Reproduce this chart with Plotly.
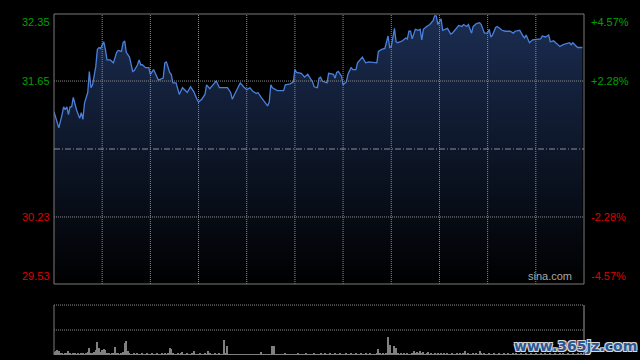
import plotly.graph_objects as go

# ---------------- data ----------------
prev_close = 30.94
y_lo, y_hi = 29.53, 32.35
label_levels = [32.35, 31.65, 30.23, 29.53]
left_labels = ["32.35", "31.65", "30.23", "29.53"]
right_labels = ["+4.57%", "+2.28%", "-2.28%", "-4.57%"]
grid_levels = [31.65, 30.23]
grid_minutes = [30, 60, 90, 120, 150, 180, 210, 240, 270, 300]
session_minutes = 330

minutes = [
    0, 3, 5, 6, 7, 8, 9, 10, 11, 12,
    14, 16, 17, 18, 19, 21, 22, 23, 24, 26,
    27, 28, 29, 31, 32, 33, 35, 37, 39, 40,
    42, 43, 44, 45, 47, 49, 50, 52, 53, 54,
    55, 57, 59, 60, 62, 64, 65, 68, 69, 70,
    72, 73, 74, 76, 78, 80, 82, 83, 85, 87,
    89, 90, 92, 94, 95, 97, 99, 101, 103, 108,
    110, 111, 113, 114, 116, 118, 120, 122, 124, 126,
    127, 129, 131, 133, 134, 135, 136, 139, 143, 144,
    147, 149, 150, 151, 154, 156, 158, 159, 161, 162,
    164, 165, 166,
    167, 170, 171, 174, 175, 176, 177, 179, 180, 182,
    183, 185, 186, 188, 189, 192, 193, 194, 196, 199,
    201, 202, 204, 206, 208, 209, 210, 212, 213, 214,
    217, 219, 220, 221, 222, 223, 225, 227, 228, 229,
    230, 232, 234, 236, 237, 238, 239, 241, 242, 245,
    247, 248, 252, 254, 255, 257, 258, 260, 261, 263,
    265, 266, 268, 270, 271, 272, 273, 275, 276, 279,
    281, 284, 286, 287, 290, 292, 293, 294, 296, 298,
    301, 303, 304, 306, 308, 309, 311, 313, 315, 317,
    319, 321, 322, 323, 326, 327, 329,
]

prices = [
    31.33, 31.16, 31.30, 31.38, 31.35, 31.38, 31.30, 31.38, 31.38, 31.48,
    31.35, 31.26, 31.32, 31.25, 31.42, 31.53, 31.75, 31.58, 31.61, 31.80,
    31.98, 32.00, 31.99, 32.06, 31.98, 31.87, 31.87, 31.84, 31.95, 31.97,
    31.96, 32.05, 32.07, 31.95, 31.90, 31.75, 31.76, 31.82, 31.87, 31.82,
    31.82, 31.79, 31.79, 31.72, 31.77, 31.69, 31.66, 31.68, 31.84, 31.85,
    31.74, 31.72, 31.63, 31.63, 31.51, 31.58, 31.54, 31.53, 31.59, 31.54,
    31.46, 31.43, 31.46, 31.51, 31.61, 31.57, 31.61, 31.65, 31.58, 31.58,
    31.53, 31.46, 31.53, 31.56, 31.63, 31.59, 31.56, 31.58, 31.54, 31.52,
    31.53, 31.48, 31.43, 31.39, 31.43, 31.61, 31.58, 31.55, 31.55, 31.61,
    31.62, 31.64, 31.77, 31.74, 31.73, 31.69, 31.72, 31.69, 31.64, 31.59,
    31.58, 31.68, 31.69,
    31.65, 31.63, 31.73, 31.72, 31.68, 31.74, 31.75, 31.70, 31.61, 31.64,
    31.72, 31.79, 31.77, 31.77, 31.84, 31.90, 31.87, 31.84, 31.85, 31.84,
    31.84, 31.96, 31.98, 31.99, 32.12, 32.00, 32.01, 32.20, 32.06, 32.05,
    32.07, 32.10, 32.09, 32.17, 32.17, 32.09, 32.19, 32.18, 32.19, 32.08,
    32.19, 32.22, 32.24, 32.28, 32.33, 32.33, 32.24, 32.30, 32.18, 32.20,
    32.14, 32.15, 32.23, 32.22, 32.24, 32.22, 32.24, 32.15, 32.22, 32.25,
    32.26, 32.24, 32.15, 32.15, 32.19, 32.11, 32.13, 32.21, 32.22, 32.18,
    32.17, 32.17, 32.15, 32.17, 32.18, 32.12, 32.10, 32.13, 32.05, 32.08,
    32.09, 32.09, 32.12, 32.11, 32.13, 32.06, 32.07, 32.04, 32.01, 32.03,
    32.04, 32.05, 32.03, 32.05, 32.00, 32.00, 32.00,
]

volumes = [
    3, 4, 5, 4, 2, 2, 1, 2, 2, 4, 2, 1, 2, 2, 1, 2, 1, 2, 2, 1, 2, 3, 7, 2, 2, 3, 5, 13, 7, 3,
    5, 6, 5, 2, 2, 1, 2, 2, 8, 2, 2, 1, 2, 3, 12, 14, 4, 2, 1, 1, 2, 1, 2, 1, 1, 2, 1, 1, 2, 1,
    1, 2, 1, 1, 2, 1, 1, 2, 1, 2, 1, 2, 7, 6, 2, 1, 1, 2, 1, 2, 3, 1, 1, 2, 1, 1, 2, 4, 1, 1,
    1, 2, 1, 1, 2, 1, 4, 2, 1, 1, 2, 1, 1, 2, 1, 1, 15, 2, 9, 1, 1, 1, 1, 1, 1, 1, 1, 1, 1, 1,
    1, 1, 1, 1, 1, 1, 1, 1, 1, 3, 1, 1, 1, 1, 1, 1, 9, 9, 1, 1, 1, 1, 1, 1, 2, 1, 1, 1, 1, 1,
    1, 1, 2, 1, 1, 1, 1, 2, 1, 1, 1, 1, 2, 1, 1, 1, 2, 1, 1, 2, 1, 1, 2, 1, 1, 2, 1, 1, 2, 1,
    1, 1, 2, 1, 1, 2, 1, 1, 2, 1, 1, 2, 1, 1, 2, 1, 1, 2, 1, 1, 1, 2, 6, 2, 1, 2, 1, 2, 18, 10,
    2, 2, 9, 7, 2, 1, 2, 1, 2, 1, 2, 1, 1, 2, 4, 2, 3, 2, 4, 2, 3, 1, 2, 3, 1, 2, 1, 2, 1, 2,
    1, 2, 1, 2, 1, 2, 1, 1, 2, 1, 1, 2, 1, 2, 1, 2, 4, 1, 2, 1, 1, 2, 1, 2, 1, 4, 2, 1, 2, 1,
    1, 2, 1, 1, 2, 1, 1, 2, 1, 1, 2, 1, 1, 2, 1, 1, 2, 1, 2, 1, 1, 2, 1, 1, 2, 1, 1, 2, 1, 1,
    2, 1, 1, 2, 1, 1, 2, 1, 1, 2, 1, 1, 2, 1, 1, 2, 1, 2, 1, 1, 2, 1, 1, 2, 1, 1, 2, 1, 2, 1,
    2,
]
volume_minutes = list(range(len(volumes)))
volume_max = 50

# ---------------- figure ----------------
W, H = 640, 360
px_x = lambda p: p / W
px_y = lambda p: 1 - p / H

GREEN = "#00a000"
RED = "#dd0000"
GRID = "#8c8c8c"
BORDER = "#7a7a7a"
FONT = "Liberation Sans, Arial, sans-serif"
DOT = "1px,1px"

fig = go.Figure()

fig.add_trace(go.Scatter(
    x=minutes, y=prices, mode="lines",
    line=dict(color="#4a80dc", width=1.3),
    fill="tozeroy",
    fillgradient=dict(type="vertical",
                      colorscale=[[0, "#000000"], [1, "#1b2d52"]],
                      start=y_lo, stop=y_hi),
    hoverinfo="skip", showlegend=False,
    xaxis="x", yaxis="y",
))

fig.add_trace(go.Bar(
    x=volume_minutes, y=volumes, width=0.7,
    marker=dict(color="#808080", line=dict(width=0)),
    hoverinfo="skip", showlegend=False,
    xaxis="x2", yaxis="y2",
))

xdom = [px_x(54), px_x(584)]
fig.update_layout(
    width=W, height=H,
    margin=dict(l=0, r=0, t=0, b=0),
    paper_bgcolor="#000000", plot_bgcolor="#000000",
    bargap=0,
    xaxis=dict(domain=xdom, range=[0, session_minutes], showticklabels=False, ticks="",
               showgrid=False, zeroline=False, showline=False, anchor="y"),
    yaxis=dict(domain=[px_y(284), px_y(14)], range=[y_lo, y_hi], showticklabels=False,
               ticks="", showgrid=False, zeroline=False, showline=False, anchor="x"),
    xaxis2=dict(domain=xdom, range=[0, session_minutes], showticklabels=False,
                ticks="", showgrid=False, zeroline=False, showline=False, anchor="y2"),
    yaxis2=dict(domain=[px_y(355), px_y(305)], range=[0, volume_max],
                showticklabels=False, ticks="", showgrid=False,
                zeroline=False, showline=False, anchor="x2"),
)

shapes = []
# dotted grid drawn above the filled area
for m in grid_minutes:
    shapes.append(dict(type="line", xref="x", yref="y domain", x0=m, x1=m, y0=0, y1=1,
                       line=dict(color=GRID, width=1, dash=DOT), layer="above"))
for lvl in grid_levels:
    shapes.append(dict(type="line", xref="x domain", yref="y", x0=0, x1=1, y0=lvl, y1=lvl,
                       line=dict(color=GRID, width=1, dash=DOT), layer="above"))
shapes += [
    # main panel border
    dict(type="rect", xref="x domain", yref="y domain", x0=0, x1=1, y0=0, y1=1,
         line=dict(color=BORDER, width=1), fillcolor="rgba(0,0,0,0)", layer="above"),
    # previous close line
    dict(type="line", xref="x domain", yref="y", x0=0, x1=1, y0=prev_close, y1=prev_close,
         line=dict(color="#8a90a0", width=1, dash="6px,2px,1px,2px"), layer="above"),
    # volume panel borders and grid
    dict(type="line", xref="x2 domain", yref="y2 domain", x0=0, x1=0, y0=0, y1=1,
         line=dict(color=BORDER, width=1)),
    dict(type="line", xref="x2 domain", yref="y2 domain", x0=1, x1=1, y0=0, y1=1,
         line=dict(color="#9a9a9a", width=1)),
    dict(type="line", xref="x2 domain", yref="y2 domain", x0=0, x1=1, y0=1, y1=1,
         line=dict(color=GRID, width=1, dash=DOT)),
    dict(type="line", xref="x2 domain", yref="y2", x0=0, x1=1,
         y0=volume_max / 2, y1=volume_max / 2,
         line=dict(color=GRID, width=1, dash=DOT), layer="below"),
]
fig.update_layout(shapes=shapes)

annotations = []
anchors = ["top", "middle", "middle", "bottom"]
for lvl, ltxt, rtxt, anc in zip(label_levels, left_labels, right_labels, anchors):
    col = GREEN if lvl > prev_close else RED
    annotations.append(dict(x=px_x(52), xref="paper", y=lvl, yref="y", text=ltxt,
                            showarrow=False, xanchor="right", yanchor=anc,
                            font=dict(family=FONT, size=11, color=col)))
    annotations.append(dict(x=px_x(589), xref="paper", y=lvl, yref="y", text=rtxt,
                            showarrow=False, xanchor="left", yanchor=anc,
                            font=dict(family=FONT, size=11, color=col)))

annotations.append(dict(x=px_x(574), xref="paper", y=px_y(284), yref="paper",
                        text="sina.com", showarrow=False, xanchor="right", yanchor="bottom",
                        font=dict(family=FONT, size=11, color="#a8a8a8")))

annotations.append(dict(x=px_x(575), xref="paper", y=px_y(346), yref="paper",
                        text="<b>www.365jz.com</b>", showarrow=False,
                        xanchor="center", yanchor="middle",
                        font=dict(family="DejaVu Sans, sans-serif", size=14, color="#2b5797",
                                  shadow="1px 1px 0 #d8d8d8, -1px -1px 0 #d8d8d8, 1px -1px 0 #d8d8d8, -1px 1px 0 #d8d8d8")))
fig.update_layout(annotations=annotations)

fig.write_html("out.html", config={"displayModeBar": False},
               post_script="document.body.style.margin='0';")
